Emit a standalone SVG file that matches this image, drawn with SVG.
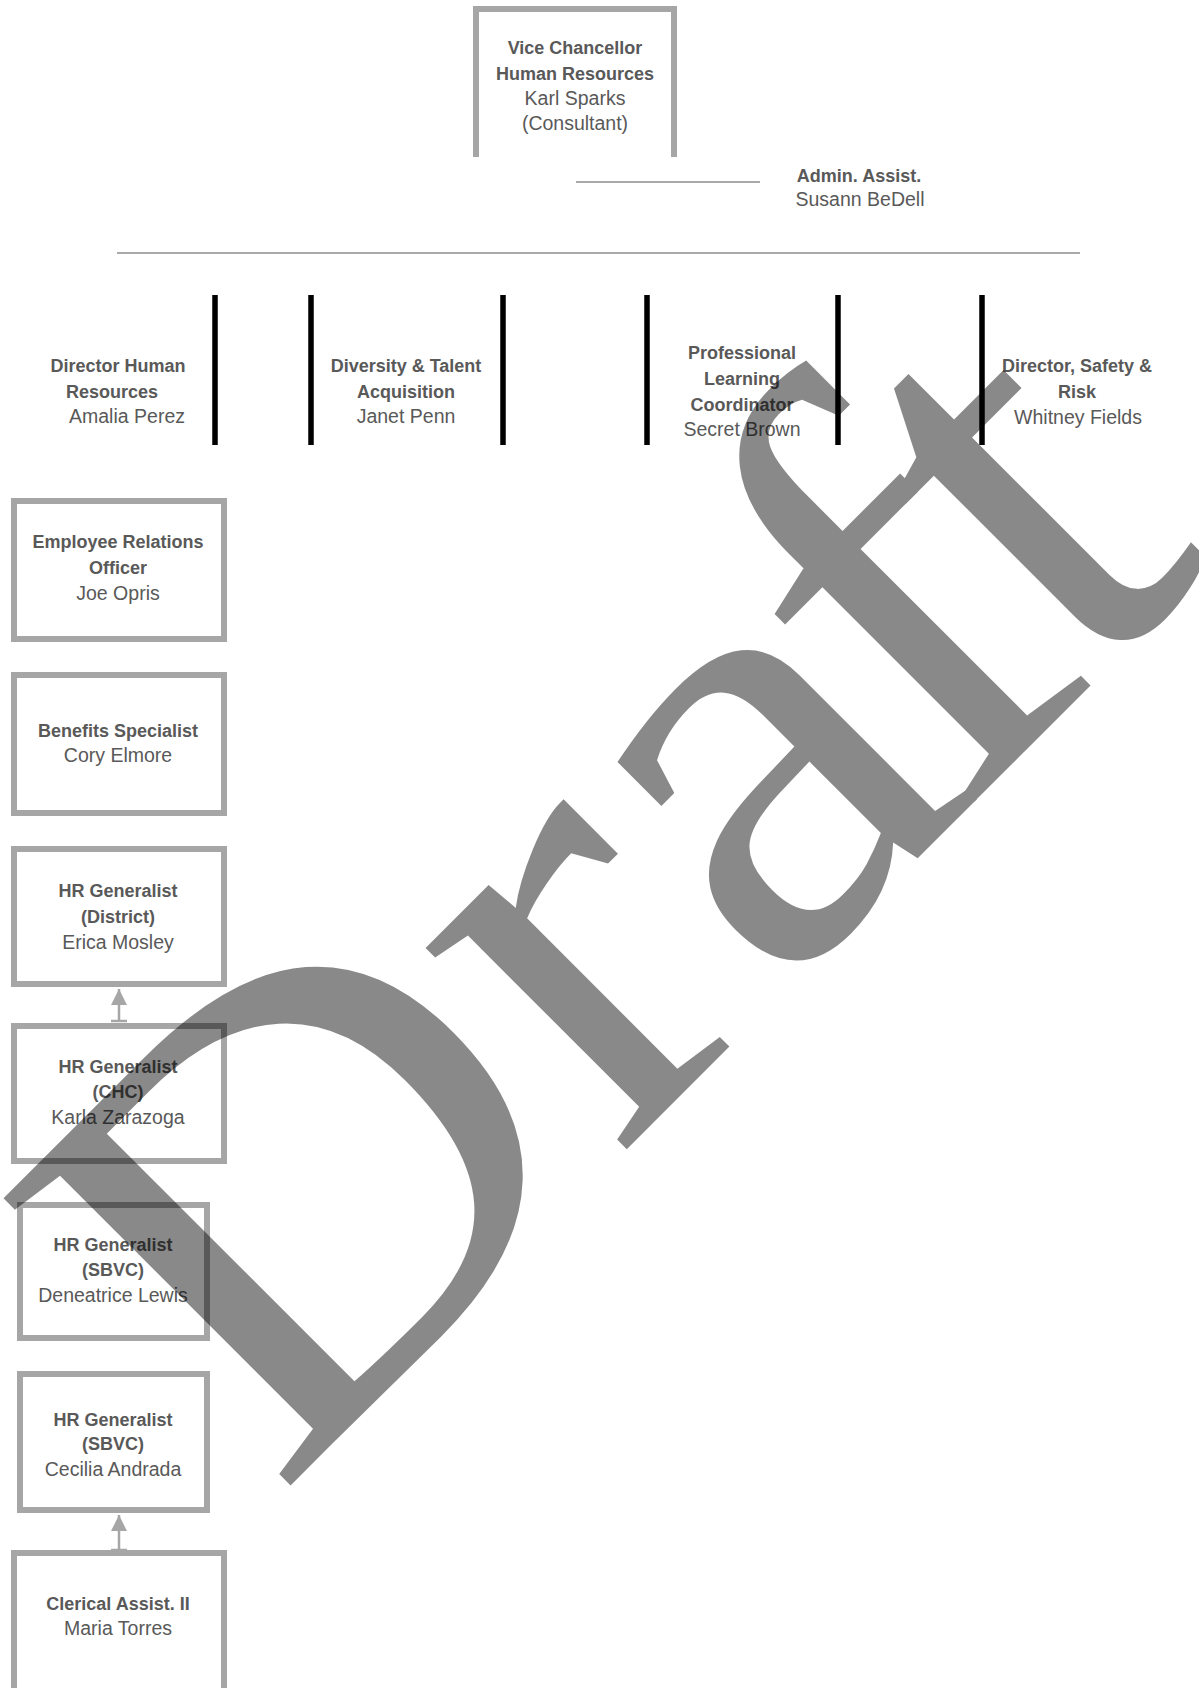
<svg xmlns="http://www.w3.org/2000/svg" width="1199" height="1688" viewBox="0 0 1199 1688">
<defs>
<style>
.t{font-family:"Liberation Sans",Arial,sans-serif;fill:#595959;text-anchor:middle}
.b{font-weight:bold;font-size:18px}
.r{font-size:19.5px}
.box{fill:#fff;stroke:#a6a6a6;stroke-width:6}
.bar{stroke:#000;stroke-width:5.5}
.ln{stroke:#8c8c8c;stroke-width:1.6;fill:none}
.ar{stroke:#a6a6a6;stroke-width:2.5;fill:none}
.wm{font-family:"Liberation Serif","Times New Roman",serif;font-size:620px;fill:#000;opacity:0.46}
</style>
<marker id="ah" viewBox="0 0 10 10" refX="10" refY="5" markerWidth="6.5" markerHeight="6.5" markerUnits="strokeWidth" orient="auto">
<path d="M0,0 L10,5 L0,10 z" fill="#a6a6a6"/>
</marker>
</defs>
<rect width="1199" height="1688" fill="#fff"/>

<g id="connectors">
<line class="ln" x1="576" y1="182" x2="760" y2="182"/>
<line class="ln" x1="117" y1="253" x2="1080" y2="253"/>
<line class="bar" x1="215" y1="295" x2="215" y2="445"/>
<line class="bar" x1="311" y1="295" x2="311" y2="445"/>
<line class="bar" x1="503" y1="295" x2="503" y2="445"/>
<line class="bar" x1="647" y1="295" x2="647" y2="445"/>
<line class="bar" x1="838" y1="295" x2="838" y2="445"/>
<line class="bar" x1="982" y1="295" x2="982" y2="445"/>
<line class="ar" x1="119" y1="1021" x2="119" y2="989" marker-end="url(#ah)"/>
<line class="ar" x1="111" y1="1021" x2="127" y2="1021"/>
<line class="ar" x1="119" y1="1550" x2="119" y2="1515" marker-end="url(#ah)"/>
<line class="ar" x1="111" y1="1550" x2="127" y2="1550"/>
</g>

<g id="vc">
<path d="M476,157 V9 H674 V157" fill="none" stroke="#a6a6a6" stroke-width="6"/>
<text class="t b" x="575" y="54">Vice Chancellor</text>
<text class="t b" x="575" y="80">Human Resources</text>
<text class="t r" x="575" y="105">Karl Sparks</text>
<text class="t r" x="575" y="130">(Consultant)</text>
</g>

<g id="admin">
<text class="t b" x="859" y="182">Admin. Assist.</text>
<text class="t r" x="860" y="206">Susann BeDell</text>
</g>

<g id="director-hr">
<text class="t b" x="118" y="372">Director Human</text>
<text class="t b" x="112" y="398">Resources</text>
<text class="t r" x="127" y="423">Amalia Perez</text>
</g>

<g id="diversity">
<text class="t b" x="406" y="372">Diversity &amp; Talent</text>
<text class="t b" x="406" y="398">Acquisition</text>
<text class="t r" x="406" y="423">Janet Penn</text>
</g>

<g id="professional">
<text class="t b" x="742" y="359">Professional</text>
<text class="t b" x="742" y="385">Learning</text>
<text class="t b" x="742" y="411">Coordinator</text>
<text class="t r" x="742" y="436">Secret Brown</text>
</g>

<g id="safety">
<text class="t b" x="1077" y="372">Director, Safety &amp;</text>
<text class="t b" x="1077" y="398">Risk</text>
<text class="t r" x="1078" y="424">Whitney Fields</text>
</g>

<g id="employee-relations">
<rect class="box" x="14" y="501" width="210" height="138"/>
<text class="t b" x="118" y="548">Employee Relations</text>
<text class="t b" x="118" y="574">Officer</text>
<text class="t r" x="118" y="600">Joe Opris</text>
</g>

<g id="benefits">
<rect class="box" x="14" y="675" width="210" height="138"/>
<text class="t b" x="118" y="737">Benefits Specialist</text>
<text class="t r" x="118" y="762">Cory Elmore</text>
</g>

<g id="hr-district">
<rect class="box" x="14" y="849" width="210" height="135"/>
<text class="t b" x="118" y="897">HR Generalist</text>
<text class="t b" x="118" y="923">(District)</text>
<text class="t r" x="118" y="949">Erica Mosley</text>
</g>

<g id="hr-chc">
<rect class="box" x="14" y="1026" width="210" height="135"/>
<text class="t b" x="118" y="1073">HR Generalist</text>
<text class="t b" x="118" y="1098">(CHC)</text>
<text class="t r" x="118" y="1124">Karla Zarazoga</text>
</g>

<g id="hr-sbvc-lewis">
<rect class="box" x="20" y="1205" width="187" height="133"/>
<text class="t b" x="113" y="1251">HR Generalist</text>
<text class="t b" x="113" y="1276">(SBVC)</text>
<text class="t r" x="113" y="1302">Deneatrice Lewis</text>
</g>

<g id="hr-sbvc-andrada">
<rect class="box" x="20" y="1374" width="187" height="136"/>
<text class="t b" x="113" y="1426">HR Generalist</text>
<text class="t b" x="113" y="1450">(SBVC)</text>
<text class="t r" x="113" y="1476">Cecilia Andrada</text>
</g>

<g id="clerical">
<rect class="box" x="14" y="1553" width="210" height="145"/>
<text class="t b" x="118" y="1610">Clerical Assist. II</text>
<text class="t r" x="118" y="1635">Maria Torres</text>
</g>

<text class="wm" transform="translate(277,1499) rotate(-45) scale(1.075,1)" dx="0 0 0 -39 -35">Draft</text>
</svg>
